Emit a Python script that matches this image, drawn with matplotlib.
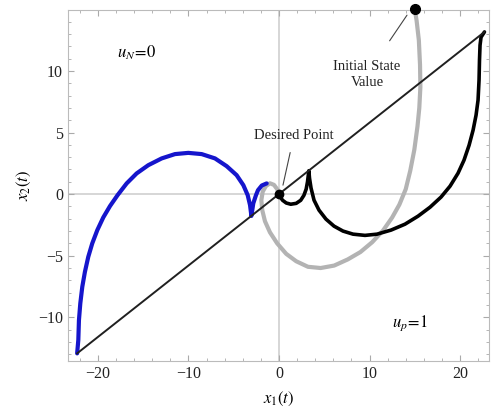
import numpy as np
import matplotlib
matplotlib.use("Agg")
import matplotlib.pyplot as plt
from matplotlib.ticker import MultipleLocator

plt.rcParams['font.family'] = ['Liberation Serif', 'DejaVu Serif']
plt.rcParams['mathtext.fontset'] = 'stix'

# switching line
line_x = [-22.3, 22.7]
line_y = [-12.93, 13.17]

# u = 0 trajectory (blue)
blue_x = [-22.3, -22.17, -22.1, -21.95, -21.73, -21.44, -21.07, -20.63, -20.07, -19.41,
          -18.67, -17.83, -16.83, -15.73, -14.44, -12.96, -11.49, -10.02, -8.54, -7.07,
          -5.78, -4.68, -3.94, -3.46, -3.2, -3.05, -2.84, -2.55, -2.32, -1.9, -1.36]
blue_y = [-12.93, -11.85, -10.23, -8.87, -7.52, -6.31, -5.09, -4.0, -2.92, -1.89,
          -0.97, -0.08, 0.87, 1.68, 2.35, 2.9, 3.25, 3.35, 3.25, 2.9,
          2.27, 1.54, 0.73, -0.08, -0.89, -1.77, -0.75, -0.1, 0.32, 0.7, 0.87]

# trajectory from the top end of the switching line (black)
black_x = [22.7, 22.32, 22.21, 22.15, 22.1, 21.99, 21.77, 21.44, 21.0, 20.44, 19.78,
           18.9, 17.9, 16.69, 15.36, 13.92, 12.38, 10.83, 9.5, 8.18, 7.07, 6.08,
           5.19, 4.42, 3.87, 3.54, 3.37, 3.3, 3.15, 3.0, 2.75, 2.4, 1.9, 1.3,
           0.8, 0.4, 0.15, 0.0]
black_y = [13.17, 12.74, 12.09, 10.88, 9.25, 7.63, 6.41, 5.19, 3.97, 2.76, 1.7,
           0.65, -0.24, -1.06, -1.79, -2.44, -2.92, -3.25, -3.35, -3.25, -3.0, -2.6,
           -2.03, -1.3, -0.49, 0.49, 1.3, 1.9, 1.0, 0.4, -0.1, -0.5, -0.75, -0.82,
           -0.72, -0.5, -0.25, 0.0]

# trajectory from the initial state (gray)
gray_x = [15.0, 15.2, 15.45, 15.58, 15.62, 15.5, 15.3, 14.95, 14.5, 14.0, 13.3,
          12.5, 11.5, 10.3, 9.0, 7.6, 6.1, 4.6, 3.2, 1.9, 0.8, -0.2, -1.0,
          -1.55, -1.85, -1.95, -1.8, -1.45, -1.0, -0.55, -0.2, 0.0]
gray_y = [15.0, 14.1, 12.5, 10.5, 8.7, 7.0, 5.5, 3.6, 1.9, 0.4, -0.85,
          -1.9, -2.95, -3.9, -4.7, -5.3, -5.8, -6.0, -5.9, -5.45, -4.85, -4.0, -3.1,
          -2.2, -1.3, -0.5, 0.2, 0.65, 0.88, 0.75, 0.4, 0.0]

init_pt = (15.0, 15.0)
desired_pt = (0.0, 0.0)

fig = plt.figure(figsize=(4.92, 4.15), dpi=100)
ax = fig.add_axes([0.1382, 0.1301, 0.8557, 0.8458])

ax.axhline(0, color='#d0d0d0', lw=1.2, zorder=0)
ax.axvline(0, color='#d0d0d0', lw=1.2, zorder=0)

ax.plot(gray_x, gray_y, color='#b3b3b3', lw=3.0, solid_capstyle='round',
        solid_joinstyle='round', zorder=2)
ax.plot(blue_x, blue_y, color='#1515cc', lw=3.0, solid_capstyle='round',
        solid_joinstyle='round', zorder=3)
ax.plot(black_x, black_y, color='black', lw=2.6, solid_capstyle='round',
        solid_joinstyle='round', zorder=3)
ax.plot(line_x, line_y, color='#202020', lw=1.4, zorder=4)

ax.plot(*desired_pt, 'o', color='black', ms=6, zorder=5)
ax.plot(*init_pt, 'o', color='black', ms=7, zorder=5, clip_on=False)

# annotations
ax.annotate('Desired Point', xy=(0.44, 0.73), xytext=(1.66, 4.79),
            ha='center', va='center', fontsize=10.5, color='#222222',
            arrowprops=dict(arrowstyle='-', color='#444444', lw=0.8,
                            shrinkA=6, shrinkB=0))
ax.annotate('Initial State\nValue', xy=(14.14, 14.53), xytext=(9.72, 9.74),
            ha='center', va='center', fontsize=10.5, color='#222222',
            linespacing=1.3,
            arrowprops=dict(arrowstyle='-', color='#444444', lw=0.8,
                            shrinkA=14, shrinkB=0))
ax.text(-15.8, 11.5, r'$u_N\!=\!0$', fontsize=12, ha='center', va='center')
ax.text(14.48, -10.47, r'$u_p\!=\!1$', fontsize=12, ha='center', va='center')

ax.set_xlim(-23.31, 23.2)
ax.set_ylim(-13.55, 14.95)
ax.xaxis.set_major_locator(MultipleLocator(10))
ax.xaxis.set_minor_locator(MultipleLocator(2))
ax.yaxis.set_major_locator(MultipleLocator(5))
ax.yaxis.set_minor_locator(MultipleLocator(1))
ax.tick_params(which='both', direction='in', top=True, right=True,
               color='#aaaaaa', labelsize=11.5, labelcolor='#222222')
ax.tick_params(which='major', length=4, width=0.8)
ax.tick_params(which='minor', length=2, width=0.6)
for sp in ax.spines.values():
    sp.set_color('#bbbbbb')
    sp.set_linewidth(0.8)

ax.set_xlabel(r'$x_1(t)$', fontsize=12, labelpad=6)
ax.set_ylabel(r'$x_2(t)$', fontsize=12, labelpad=4)

fig.savefig('out.png', dpi=100)
